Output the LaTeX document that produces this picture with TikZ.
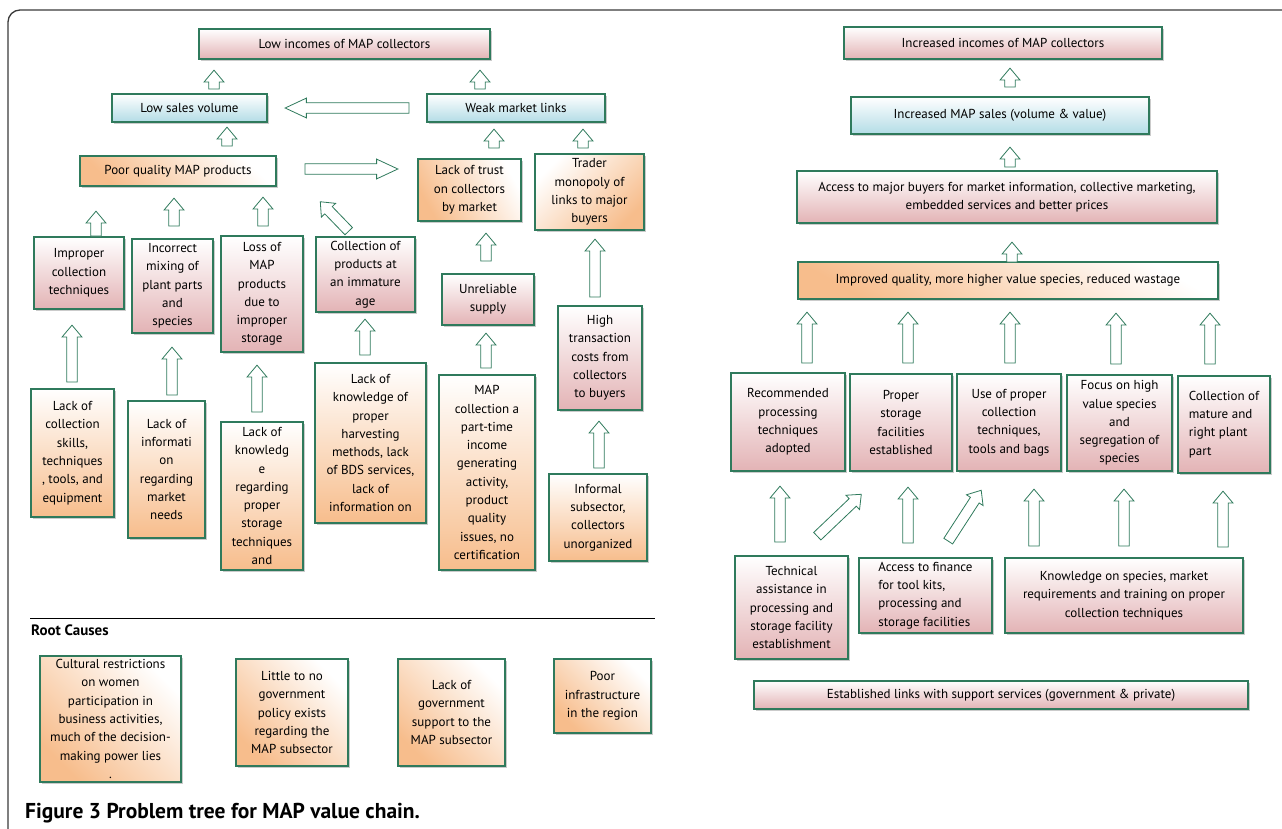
\documentclass[tikz,border=0pt]{standalone}
\usepackage{fontspec}
\setmainfont{PT Sans}
\usetikzlibrary{shapes.arrows,shadows,calc}

\definecolor{linegreen}{HTML}{2F7A5C}
\definecolor{pinkc}{HTML}{E3B3B5}
\definecolor{bluec}{HTML}{B3DCE6}
\definecolor{orangec}{HTML}{F7BD8C}
\definecolor{framec}{HTML}{3A3A3A}

\tikzset{
  box/.style={draw=linegreen, line width=1.1pt, align=center, inner sep=2pt,
    font=\fontsize{13}{18.3}\selectfont,
    drop shadow={shadow xshift=1.6pt, shadow yshift=-1.6pt, fill=black!45, opacity=0.45}},
  pinkbox/.style={box, top color=white, bottom color=pinkc},
  bluebox/.style={box, top color=white, bottom color=bluec},
  orangebox/.style={box, top color=white, bottom color=orangec, shading angle=#1},
  orangebox/.default=0,
  blk/.style={single arrow, draw=linegreen, fill=white, line width=0.8pt,
    inner xsep=0pt, inner ysep=4.8pt, single arrow head extend=4.7pt,
    single arrow tip angle=80},
  flat/.style={single arrow tip angle=50}
}

\newcommand{\fat}[3][]{%
  \path let \p1=#2, \p2=#3, \n1={atan2(\y2-\y1,\x2-\x1)}, \n2={veclen(\x2-\x1,\y2-\y1)} in
    node[blk, rotate=\n1, minimum height=\n2, anchor=tail, #1] at (\p1) {};}

\begin{document}
\begin{tikzpicture}[x=1pt, y=-1pt]
    \useasboundingbox (0,0) rectangle (1282,828);
    \draw[framec, line width=1.3pt, rounded corners=12pt] (8,840) -- (8,10) -- (1295,10);

    \node[pinkbox, minimum width=291pt, minimum height=30pt] at (344.5,44) (l1) {Low incomes of MAP collectors};
    \node[bluebox, minimum width=155pt, minimum height=28pt] at (189.5,108) (sv) {Low sales volume};
    \node[bluebox, minimum width=178pt, minimum height=28pt] at (516,108) (wml) {Weak market links};
    \node[orangebox=-45, minimum width=196pt, minimum height=30pt] at (178,171) (pq) {Poor quality MAP products};
    \node[orangebox=-60, minimum width=103pt, minimum height=62pt] at (469.5,190) (trust) {Lack of trust\\on collectors\\by market};
    \node[orangebox=45, minimum width=109pt, minimum height=76pt] at (589.5,192) (trader) {Trader\\monopoly of\\links to major\\buyers};
    \node[pinkbox, minimum width=90pt, minimum height=72pt] at (79,273) (improper) {Improper\\collection\\techniques};
    \node[pinkbox, minimum width=81pt, minimum height=94pt] at (172.5,286) (mixing) {Incorrect\\mixing of\\plant parts\\and\\species};
    \node[pinkbox, minimum width=82pt, minimum height=116pt] at (262,294) (loss) {Loss of\\MAP\\products\\due to\\improper\\storage};
    \node[pinkbox, minimum width=99pt, minimum height=75pt] at (365.5,274.5) (immature) {Collection of\\products at\\an immature\\age};
    \node[pinkbox, minimum width=92pt, minimum height=51pt] at (488,299.5) (unrel) {Unreliable\\supply};
    \node[pinkbox, minimum width=84pt, minimum height=104pt] at (600,358) (hightc) {High\\transaction\\costs from\\collectors\\to buyers};
    \node[orangebox, minimum width=83pt, minimum height=128pt] at (72.5,453) (skills) {Lack of\\collection\\skills,\\techniques\\, tools, and\\equipment};
    \node[orangebox, minimum width=77pt, minimum height=137pt] at (166.5,469.5) (info) {Lack of\\informati\\on\\regarding\\market\\needs};
    \node[orangebox, minimum width=82pt, minimum height=148pt] at (262,496) (knowst) {Lack of\\knowledg\\e\\regarding\\proper\\storage\\techniques\\and};
    \node[orangebox, minimum width=111pt, minimum height=160pt] at (370.5,443) (harvest) {Lack of\\knowledge of\\proper\\harvesting\\methods, lack\\of BDS services,\\lack of\\information on};
    \node[orangebox, minimum width=96pt, minimum height=195pt] at (487,472.5) (parttime) {MAP\\collection a\\part-time\\income\\generating\\activity,\\product\\quality\\issues, no\\certification};
    \node[orangebox, minimum width=98pt, minimum height=87pt] at (598,517.5) (informal) {Informal\\subsector,\\collectors\\unorganized};

    \fat{([xshift=24.5pt,yshift=4pt]sv.north)}{([xshift=-130.5pt,yshift=-11pt]l1.south)}
    \fat{([xshift=-36pt,yshift=4pt]wml.north)}{([xshift=135.5pt,yshift=-11pt]l1.south)}
    \fat[flat]{([xshift=-17pt]wml.west)}{([xshift=18pt]sv.east)}
    \fat{([xshift=49pt,yshift=9pt]pq.north)}{([xshift=37.5pt,yshift=-5pt]sv.south)}
    \fat{([xshift=24.5pt,yshift=10pt]trust.north)}{([xshift=-22pt,yshift=-7pt]wml.south)}
    \fat{([xshift=-6.5pt,yshift=5pt]trader.north)}{([xshift=67pt,yshift=-7pt]wml.south)}
    \fat[flat]{([xshift=28pt,yshift=2pt]pq.east)}{([xshift=-20pt,yshift=21pt]trust.west)}
    \fat{([xshift=17pt]improper.north)}{([xshift=-82pt,yshift=-25pt]pq.south)}
    \fat{([xshift=1.5pt,yshift=12pt]mixing.north)}{([xshift=-4pt,yshift=-12pt]pq.south)}
    \fat{([xshift=1pt,yshift=9pt]loss.north)}{([xshift=85pt,yshift=-11pt]pq.south)}
    \fat{([xshift=-16.5pt,yshift=5pt]immature.north)}{([xshift=44pt,yshift=-31pt]pq.east)}
    \fat{([xshift=-2pt,yshift=12pt]unrel.north)}{([xshift=16.5pt,yshift=-12pt]trust.south)}
    \fat{([xshift=-5pt,yshift=8pt]hightc.north)}{([xshift=5.5pt,yshift=-9pt]trader.south)}
    \fat{([xshift=-0.5pt,yshift=6pt]skills.north)}{([xshift=-7pt,yshift=-16pt]improper.south)}
    \fat{([xshift=5.5pt,yshift=5pt]info.north)}{([xshift=-0.5pt,yshift=-14pt]mixing.south)}
    \fat{([xshift=-5pt,yshift=9pt]knowst.north)}{([xshift=-5pt,yshift=-13pt]loss.south)}
    \fat{([xshift=-5.5pt,yshift=7pt]harvest.north)}{([xshift=-0.5pt,yshift=-7pt]immature.south)}
    \fat{([xshift=-1pt,yshift=6pt]parttime.north)}{([xshift=-2pt,yshift=-8pt]unrel.south)}
    \fat{([xshift=1pt,yshift=5pt]informal.north)}{([xshift=-1pt,yshift=-11pt]hightc.south)}

    \draw[black, line width=0.6pt] (30,618) -- (655,618);
    \node[anchor=west, inner sep=0pt, font=\fontsize{15}{17}\selectfont\bfseries] at (31,630) (rootlbl) {Root Causes};
    \node[orangebox=-45, minimum width=141pt, minimum height=126pt] at (110.5,719) (cultural) {Cultural restrictions\\on women\\participation in\\business activities,\\much of the decision-\\making power lies\\.};
    \node[orangebox=-45, minimum width=112pt, minimum height=107pt] at (292,712.5) (policy) {Little to no\\government\\policy exists\\regarding the\\MAP subsector};
    \node[orangebox=-45, minimum width=107pt, minimum height=107pt] at (451.5,712.5) (support) {Lack of\\government\\support to the\\MAP subsector};
    \node[orangebox=-45, minimum width=97pt, minimum height=74pt] at (602.5,696) (infra) {Poor\\infrastructure\\in the region};

    \node[pinkbox, minimum width=318pt, minimum height=32pt] at (1003,43) (r1) {Increased incomes of MAP collectors};
    \node[bluebox, minimum width=298pt, minimum height=37pt] at (1000,115.5) (r2) {Increased MAP sales (volume \& value)};
    \node[pinkbox, minimum width=420pt, minimum height=52pt] at (1007,197) (r3) {Access to major buyers for market information, collective marketing,\\embedded services and better prices};
    \node[orangebox=-30, minimum width=420pt, minimum height=37pt] at (1008,280.5) (r4) {Improved quality, more higher value species, reduced wastage};
    \node[pinkbox, minimum width=114pt, minimum height=98pt] at (788,422) (rec) {Recommended\\processing\\techniques\\adopted};
    \node[pinkbox, minimum width=102pt, minimum height=97pt] at (901,422.5) (store) {Proper\\storage\\facilities\\established};
    \node[pinkbox, minimum width=104pt, minimum height=97pt] at (1009,422.5) (useof) {Use of proper\\collection\\techniques,\\tools and bags};
    \node[pinkbox, minimum width=105pt, minimum height=96pt] at (1119.5,423) (focus) {Focus on high\\value species\\and\\segregation of\\species};
    \node[pinkbox, align=left, minimum width=92pt, minimum height=97pt] at (1224,424.5) (mature) {Collection of\\mature and\\right plant\\part};
    \node[pinkbox, minimum width=113pt, minimum height=103pt] at (791.5,607.5) (tech) {Technical\\assistance in\\processing and\\storage facility\\establishment};
    \node[pinkbox, align=left, minimum width=133pt, minimum height=75pt] at (925.5,595.5) (finance) {Access to finance\\for tool kits,\\processing and\\storage facilities};
    \node[pinkbox, minimum width=238pt, minimum height=75pt] at (1124,595.5) (knowsp) {Knowledge on species, market\\requirements and training on proper\\collection techniques};
    \node[pinkbox, minimum width=494pt, minimum height=28pt] at (1001,695) (links) {Established links with support services (government \& private)};

    \fat{([xshift=10pt,yshift=9pt]r2.north)}{([xshift=7pt,yshift=-9pt]r1.south)}
    \fat{([xshift=3pt,yshift=3pt]r3.north)}{([xshift=10pt,yshift=-13pt]r2.south)}
    \fat{([xshift=4pt,yshift=-1pt]r4.north)}{([xshift=5pt,yshift=-19pt]r3.south)}
    \fat{([xshift=19pt,yshift=9pt]rec.north)}{([xshift=-201pt,yshift=-13pt]r4.south)}
    \fat{([xshift=7pt,yshift=10pt]store.north)}{([xshift=-100pt,yshift=-13pt]r4.south)}
    \fat{([xshift=1pt,yshift=10pt]useof.north)}{([xshift=2pt,yshift=-13pt]r4.south)}
    \fat{([xshift=-3.5pt,yshift=10pt]focus.north)}{([xshift=108pt,yshift=-14pt]r4.south)}
    \fat{([xshift=-14pt,yshift=11pt]mature.north)}{([xshift=202pt,yshift=-14pt]r4.south)}
    \fat{([xshift=-11.5pt,yshift=13pt]tech.north)}{([xshift=-8pt,yshift=-15pt]rec.south)}
    \fat{([xshift=25.5pt,yshift=19pt]tech.north)}{([xshift=-40pt,yshift=-23pt]store.south)}
    \fat{([xshift=-17.5pt,yshift=14pt]finance.north)}{([xshift=7pt,yshift=-16pt]store.south)}
    \fat{([xshift=22.5pt,yshift=16pt]finance.north)}{([xshift=-28pt,yshift=-19pt]useof.south)}
    \fat{([xshift=-90pt,yshift=11pt]knowsp.north)}{([xshift=25pt,yshift=-18pt]useof.south)}
    \fat{([yshift=11pt]knowsp.north)}{([xshift=4.5pt,yshift=-18pt]focus.south)}
    \fat{([xshift=99pt,yshift=10pt]knowsp.north)}{([xshift=-1pt,yshift=-18pt]mature.south)}

    \node[anchor=west, inner sep=0pt, font=\fontsize{21.5}{24}\selectfont\bfseries] at (25,813) (caption) {Figure 3 Problem tree for MAP value chain.};
\end{tikzpicture}
\end{document}
